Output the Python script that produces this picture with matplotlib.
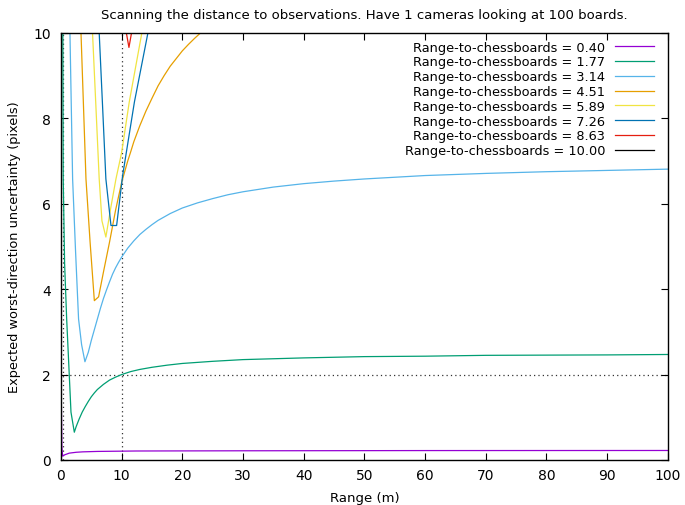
import matplotlib.pyplot as plt

# range to chessboards for each curve, and the sampled uncertainty curves
board_ranges = [0.40, 1.77, 3.14, 4.51, 5.89, 7.26, 8.63, 10.00]
colors = ["#9400d3", "#009e73", "#56b4e9", "#e69f00",
          "#f0e442", "#0072b2", "#e51e10", "#000000"]

x_040 = [0.05, 0.15, 0.27, 0.6, 1.37, 2.5, 3.6, 6, 12.4, 30, 60, 100]
y_040 = [1.5, 0.3, 0.09, 0.12, 0.16, 0.18, 0.19, 0.2, 0.21, 0.215, 0.22, 0.222]

x_177 = [0.3, 0.37, 0.6, 0.94, 1.3, 1.65, 2.2, 2.5, 3.0, 3.5, 4.0, 4.5, 5.0,
         5.5, 6.0, 7, 8, 9, 10, 11.5, 13, 15, 17.5, 20, 25, 30, 35, 40, 50,
         60, 70, 80, 90, 100]
y_177 = [10.5, 6.6, 4.6, 3.3, 2.2, 1.12, 0.65, 0.78, 0.96, 1.12, 1.25, 1.37,
         1.48, 1.57, 1.65, 1.77, 1.87, 1.94, 2.0, 2.07, 2.12, 2.17, 2.22, 2.26,
         2.31, 2.35, 2.37, 2.39, 2.42, 2.43, 2.45, 2.455, 2.46, 2.47]

x_314 = [1.4, 1.48, 1.92, 2.4, 2.9, 3.4, 3.95, 4.5, 5.0, 5.5, 6.0, 6.5, 7,
         7.5, 8, 8.5, 9, 9.5, 10, 11, 12, 13, 14, 15, 16, 18, 20, 22.5, 25,
         27.5, 30, 35, 40, 45, 50, 60, 70, 80, 90, 100]
y_314 = [10.3, 10.0, 6.58, 4.9, 3.3, 2.7, 2.3, 2.52, 2.8, 3.05, 3.3, 3.55,
         3.78, 3.98, 4.17, 4.35, 4.5, 4.63, 4.75, 4.96, 5.13, 5.28, 5.40, 5.51,
         5.61, 5.77, 5.9, 6.02, 6.12, 6.21, 6.28, 6.39, 6.47, 6.53, 6.58, 6.66,
         6.71, 6.75, 6.78, 6.81]

x_451 = [3.2, 3.3, 4.12, 4.8, 5.5, 6.2, 7, 8, 9, 10, 10.5, 11, 11.5, 12, 13,
         14, 15, 16, 17, 18, 19, 20, 21, 22, 23, 24]
y_451 = [10.3, 10.0, 6.58, 5.1, 3.73, 3.82, 4.4, 5.1, 5.85, 6.5, 6.75, 7.0,
         7.22, 7.45, 7.83, 8.17, 8.47, 8.76, 9.0, 9.22, 9.4, 9.58, 9.73, 9.87,
         10.0, 10.12]

x_589 = [5.1, 5.2, 5.75, 6.3, 6.75, 7.4, 8.2, 9.06, 10, 11.25, 12.3, 13.3, 13.5]
y_589 = [10.3, 10.0, 8.3, 6.58, 5.6, 5.22, 5.9, 6.58, 7.2, 8.38, 9.2, 9.98, 10.15]

x_726 = [6.2, 6.3, 6.85, 7.4, 8.24, 9.17, 10.16, 12.1, 14.3, 14.5]
y_726 = [10.3, 10.0, 8.3, 6.58, 5.49, 5.49, 6.66, 8.38, 9.98, 10.15]

x_863 = [10.4, 11.2, 12.0]
y_863 = [10.3, 9.66, 10.3]

x_1000 = [15.0, 20.0]
y_1000 = [12.0, 12.0]

xs = [x_040, x_177, x_314, x_451, x_589, x_726, x_863, x_1000]
ys = [y_040, y_177, y_314, y_451, y_589, y_726, y_863, y_1000]

fig = plt.figure(figsize=(6.85, 5.06), dpi=100)
ax = fig.add_axes([0.089, 0.089, 0.886, 0.844])

# reference lines at 10 m and 2 pixels, plus the one hugging the left edge
dots = dict(color="#333333", lw=0.9, ls=(0, (1, 2.5)), zorder=1)
ax.axvline(10, **dots)
ax.axvline(0.3, **dots)
ax.axhline(2, **dots)

for r, c, x, y in zip(board_ranges, colors, xs, ys):
    ax.plot(x, y, color=c, lw=0.9, label=f"Range-to-chessboards = {r:.2f}")

ax.set_xlim(0, 100)
ax.set_ylim(0, 10)
ax.set_xticks(range(0, 101, 10))
ax.set_yticks(range(0, 11, 2))
ax.tick_params(direction="in", top=True, right=True, length=5, labelsize=10)
ax.tick_params(axis="y", pad=7)
ax.tick_params(axis="x", pad=6)
for s in ax.spines.values():
    s.set_linewidth(1.0)

ax.set_xlabel("Range (m)", fontsize=9.5, labelpad=6)
ax.set_ylabel("Expected worst-direction uncertainty (pixels)", fontsize=9.3,
              labelpad=9)
ax.set_title("Scanning the distance to observations. Have 1 cameras looking at 100 boards.",
             fontsize=9.5, pad=11)

ax.legend(loc="upper right", bbox_to_anchor=(0.992, 1.003), frameon=False,
          markerfirst=False, fontsize=9.25, handlelength=3.0, labelspacing=0.14,
          borderaxespad=0.3, handletextpad=0.8)

fig.savefig("out.png", dpi=100)
